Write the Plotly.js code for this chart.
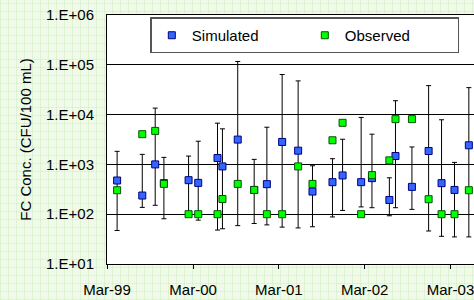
<!DOCTYPE html>
<html>
<head>
<meta charset="utf-8">
<script src="https://cdn.plot.ly/plotly-3.0.1.min.js"></script>
<style>
  html, body { margin: 0; padding: 0; }
  body {
    width: 474px; height: 300px; overflow: hidden;
    background-color: #effbe8;
    background-image:
      repeating-linear-gradient(0deg, rgba(190,230,170,0.35) 0px, rgba(190,230,170,0.35) 1px, transparent 1px, transparent 8px),
      repeating-linear-gradient(90deg, rgba(190,230,170,0.35) 0px, rgba(190,230,170,0.35) 1px, transparent 1px, transparent 8px);
  }
  #chart { width: 474px; height: 300px; }
</style>
</head>
<body>
<div id="chart"></div>
<script>
// Sampling dates
const dates = [
  '1999-04-13','1999-07-29','1999-09-22','1999-10-29','2000-02-11',
  '2000-03-23','2000-06-13','2000-07-04','2000-09-07','2000-11-16',
  '2001-01-09','2001-03-15','2001-05-22','2001-07-22','2001-10-15',
  '2001-11-27','2002-02-14','2002-04-01','2002-06-14','2002-07-10',
  '2002-09-18','2002-11-28','2003-01-22','2003-03-18','2003-05-18'
];
// Simulated FC concentration (CFU/100 mL)
const simulated = [
  475, 237, 1000, 420, 482,
  426, 1343, 911, 3150, 307,
  401, 2825, 1888, 285, 440,
  600, 440, 530, 193, 1473,
  354, 1858, 420, 307, 2420
];
// Simulated range: maximum
const simMax = [
  1830, 1590, 13500, 1385, 1470,
  2920, 6730, 5180, 116700, 1262,
  5580, 63800, 47500, 940, 1302,
  3200, 8770, 4040, 538, 19000,
  2240, 38200, 7870, 1097, 34800
];
// Simulated range: minimum
const simMin = [
  47, 137, 151, 81, 95,
  76, 48, 51, 59, 65,
  61, 55, 53, 56, 88,
  119, 140, 135, 93, 135,
  125, 46, 36, 35, 35
];
// Observed FC concentration (CFU/100 mL)
const observed = [
  303, 4040, 4710, 406, 100,
  100, 100, 202, 406, 307,
  100, 100, 911, 406, 3050,
  6840, 100, 610, 1205, 8110,
  8110, 200, 100, 100, 303
];
// Axis ticks
const yTickVals = [10, 100, 1000, 10000, 100000, 1000000];
const yTickText = ['1.E+01','1.E+02','1.E+03','1.E+04','1.E+05','1.E+06'];
const xTickVals = ['1999-03-01','2000-03-01','2001-03-01','2002-03-01','2003-03-01'];
const xTickText = ['Mar-99','Mar-00','Mar-01','Mar-02','Mar-03'];

const errPlus = simulated.map((v, i) => simMax[i] - v);
const errMinus = simulated.map((v, i) => v - simMin[i]);

const font = { family: 'Liberation Sans, Arial, sans-serif', size: 15, color: '#000' };

const traces = [
  {
    type: 'scatter', mode: 'markers', name: 'Simulated',
    x: dates, y: simulated,
    marker: { symbol: 'square', size: 7, color: '#3366FF', line: { color: '#000080', width: 1 } },
    error_y: { type: 'data', symmetric: false, array: errPlus, arrayminus: errMinus,
               color: '#000', thickness: 1, width: 2.5 }
  },
  {
    type: 'scatter', mode: 'markers', name: 'Observed',
    x: dates, y: observed,
    marker: { symbol: 'square', size: 7, color: '#00FF00', line: { color: '#005500', width: 1 } }
  }
];

const layout = {
  width: 474, height: 300,
  margin: { l: 107, r: 0, t: 15, b: 36 },
  paper_bgcolor: 'rgba(0,0,0,0)',
  plot_bgcolor: '#ffffff',
  font: font,
  showlegend: true,
  legend: {
    orientation: 'h', x: 0.118, xanchor: 'left', y: 0.99, yanchor: 'top',
    bgcolor: '#ffffff', bordercolor: '#555', borderwidth: 1.5,
    font: font, entrywidth: 108, itemclick: false
  },
  xaxis: {
    type: 'date', range: ['1999-03-01', '2003-06-09'],
    tickvals: xTickVals, ticktext: xTickText,
    ticks: 'outside', ticklen: 4, tickcolor: '#000', tickwidth: 1,
    showgrid: false, zeroline: false,
    showline: true, linecolor: '#000', linewidth: 1, mirror: true,
    tickfont: font, ticklabelstandoff: 8, ticklabeloverflow: 'allow'
  },
  yaxis: {
    type: 'log', range: [1, 6],
    tickvals: yTickVals, ticktext: yTickText,
    ticks: '', showgrid: true, gridcolor: '#000', gridwidth: 1,
    showline: true, linecolor: '#000', linewidth: 1, zeroline: false,
    tickfont: font, ticklabelstandoff: 9,
    title: { text: 'FC Conc. (CFU/100 mL)', font: font, standoff: 10 }
  }
};

Plotly.newPlot('chart', traces, layout, { staticPlot: true, displayModeBar: false });
</script>
</body>
</html>
